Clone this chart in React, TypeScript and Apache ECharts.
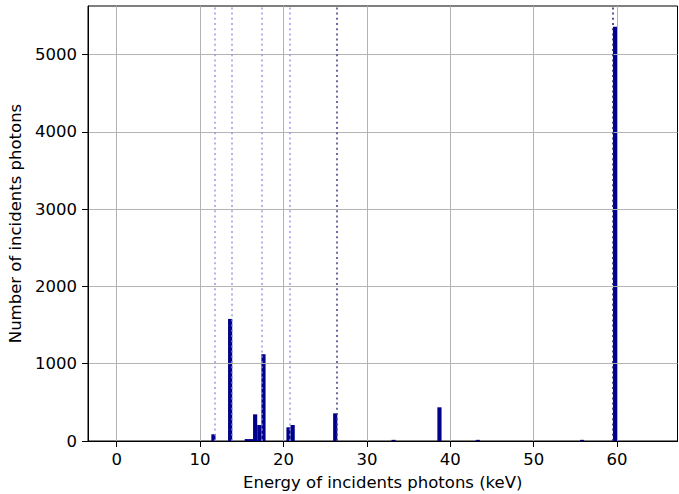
import React, { useEffect, useRef } from "react";
import * as echarts from "echarts";

// Histogram bins (keV): left edge of each bin and its photon count
const BIN_WIDTH = 0.5;
const binLeft = [11.35, 13.35, 15.35, 15.85, 16.35, 16.85, 17.35, 20.35, 20.85, 25.95, 32.95, 38.45, 43.05, 55.55, 59.5];
const counts = [87, 1580, 25, 25, 345, 207, 1123, 177, 207, 358, 15, 436, 15, 15, 5362];

// Emission lines (keV) shown as dotted vertical lines
const lineEnergies = [11.7, 13.75, 17.35, 20.8, 26.35, 59.5];
const lineColors = [
  "rgba(142,142,231,0.68)",
  "rgba(142,142,231,0.68)",
  "rgba(142,142,231,0.68)",
  "rgba(142,142,231,0.68)",
  "rgba(60,60,130,0.75)",
  "rgba(30,30,110,0.75)",
];

const xTicks = [0, 10, 20, 30, 40, 50, 60];
const yTicks = [0, 1000, 2000, 3000, 4000, 5000];

const FONT = "DejaVu Sans";

export default function App() {
  const ref = useRef<HTMLDivElement>(null);
  useEffect(() => {
    if (!ref.current) return;
    const chart = echarts.init(ref.current, null, { renderer: "svg" });
    const data = binLeft.map((l, i) => [l, l + BIN_WIDTH, counts[i]]);
    const axisText = { color: "#000", fontSize: 16.5, fontFamily: FONT };
    const plain = (v: number) => String(v);
    chart.setOption({
      animation: false,
      backgroundColor: "#fff",
      grid: {
        left: 88,
        right: 1.5,
        top: 6,
        bottom: 53,
        containLabel: false,
        outerBoundsMode: "none",
        show: true,
        borderColor: "#000",
        borderWidth: 1,
      },
      xAxis: {
        type: "value",
        min: -3.44,
        max: 67.24,
        z: 3,
        axisLine: { show: true, onZero: false, lineStyle: { color: "#000", width: 1 } },
        axisTick: { show: true, customValues: xTicks, length: 6, lineStyle: { color: "#000", width: 1 } },
        axisLabel: { customValues: xTicks, margin: 10, formatter: plain, ...axisText },
        splitLine: { show: true, lineStyle: { color: "#b0b0b0", width: 0.95 } },
        name: "Energy of incidents photons (keV)",
        nameLocation: "middle",
        nameGap: 33,
        nameTextStyle: axisText,
      },
      yAxis: {
        type: "value",
        min: 0,
        max: 5630,
        z: 3,
        axisLine: { show: true, onZero: false, lineStyle: { color: "#000", width: 1 } },
        axisTick: { show: true, customValues: yTicks, length: 6, lineStyle: { color: "#000", width: 1 } },
        axisLabel: { customValues: yTicks, margin: 11, formatter: plain, ...axisText },
        splitLine: { show: true, lineStyle: { color: "#b0b0b0", width: 0.95 } },
        name: "Number of incidents photons",
        nameLocation: "middle",
        nameGap: 62,
        nameTextStyle: axisText,
      },
      series: [
        {
          type: "custom",
          data,
          encode: { x: [0, 1], y: 2 },
          z: 2,
          renderItem: (params: any, api: any) => {
            const p0 = api.coord([api.value(0), api.value(2)]);
            const p1 = api.coord([api.value(1), 0]);
            return {
              type: "rect",
              shape: { x: p0[0], y: p0[1], width: p1[0] - p0[0], height: p1[1] - p0[1] },
              style: { fill: "#00008B" },
            };
          },
          markLine: {
            silent: true,
            symbol: ["none", "none"],
            label: { show: false },
            z: 5,
            data: lineEnergies.map((e, i) => ({
              xAxis: e,
              lineStyle: { color: lineColors[i], width: 2, type: [2, 3.2], cap: "butt" },
            })),
          },
        },
      ],
    });
    return () => chart.dispose();
  }, []);
  return (
    <div
      ref={ref}
      style={{ position: "fixed", left: 0, top: 0, width: 679, height: 494 }}
    />
  );
}
